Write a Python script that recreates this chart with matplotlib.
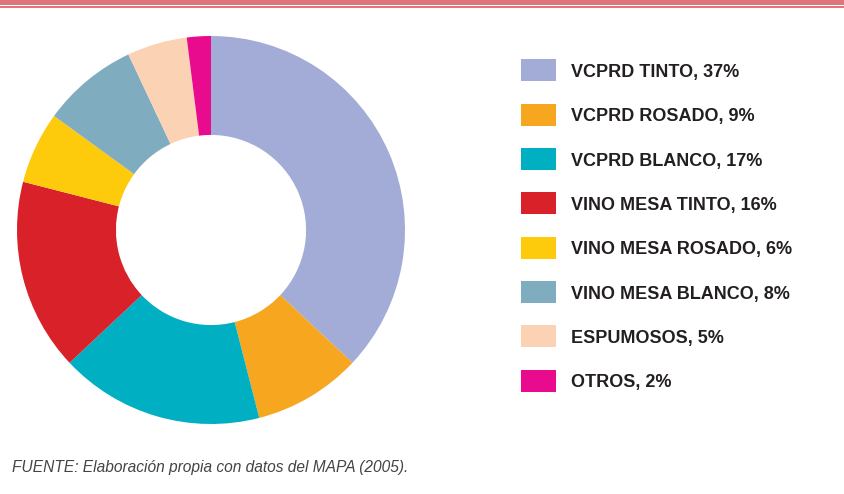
import matplotlib.pyplot as plt
from matplotlib.patches import Rectangle

labels = ["VCPRD TINTO", "VCPRD ROSADO", "VCPRD BLANCO", "VINO MESA TINTO",
          "VINO MESA ROSADO", "VINO MESA BLANCO", "ESPUMOSOS", "OTROS"]
shares = [37, 9, 17, 16, 6, 8, 5, 2]
colors = ["#a2acd6", "#f6a61f", "#00afc2", "#d82129",
          "#fdca0c", "#7fadbf", "#fbd2b4", "#e80b8e"]
source = "FUENTE: Elaboración propia con datos del MAPA (2005)."

W, H = 845, 494
fig = plt.figure(figsize=(W / 100, H / 100), dpi=100)

# overlay axes in pixel coordinates (y down)
bg = fig.add_axes([0, 0, 1, 1])
bg.set_xlim(0, W)
bg.set_ylim(H, 0)
bg.axis("off")

# top border
bg.add_patch(Rectangle((0, 0), W, 5, color="#e0757a", lw=0))
bg.add_patch(Rectangle((0, 6.5), W, 2, color="#e0757a", lw=0))

# donut
cx, cy, r = 211, 230, 194
ax = fig.add_axes([(cx - r) / W, 1 - (cy + r) / H, 2 * r / W, 2 * r / H])
ax.pie(shares, colors=colors, startangle=90, counterclock=False,
       wedgeprops=dict(width=0.51, linewidth=0))
ax.set_aspect("equal")
ax.set_xlim(-1, 1)
ax.set_ylim(-1, 1)
ax.axis("off")

# legend
y0, dy = 70.5, 44.3
for i, (lab, s, c) in enumerate(zip(labels, shares, colors)):
    y = y0 + i * dy
    bg.add_patch(Rectangle((521, y - 11), 35, 22, color=c, lw=0))
    bg.text(571, y + 2, f"{lab}, {s}%", fontsize=13, fontweight="bold",
            family="Liberation Sans", color="#231f20", va="center", ha="left")

bg.text(12, 467, source, fontsize=11.2, style="italic", family="Liberation Sans",
        color="#444444", va="center", ha="left")

fig.savefig("out.png", dpi=100)
